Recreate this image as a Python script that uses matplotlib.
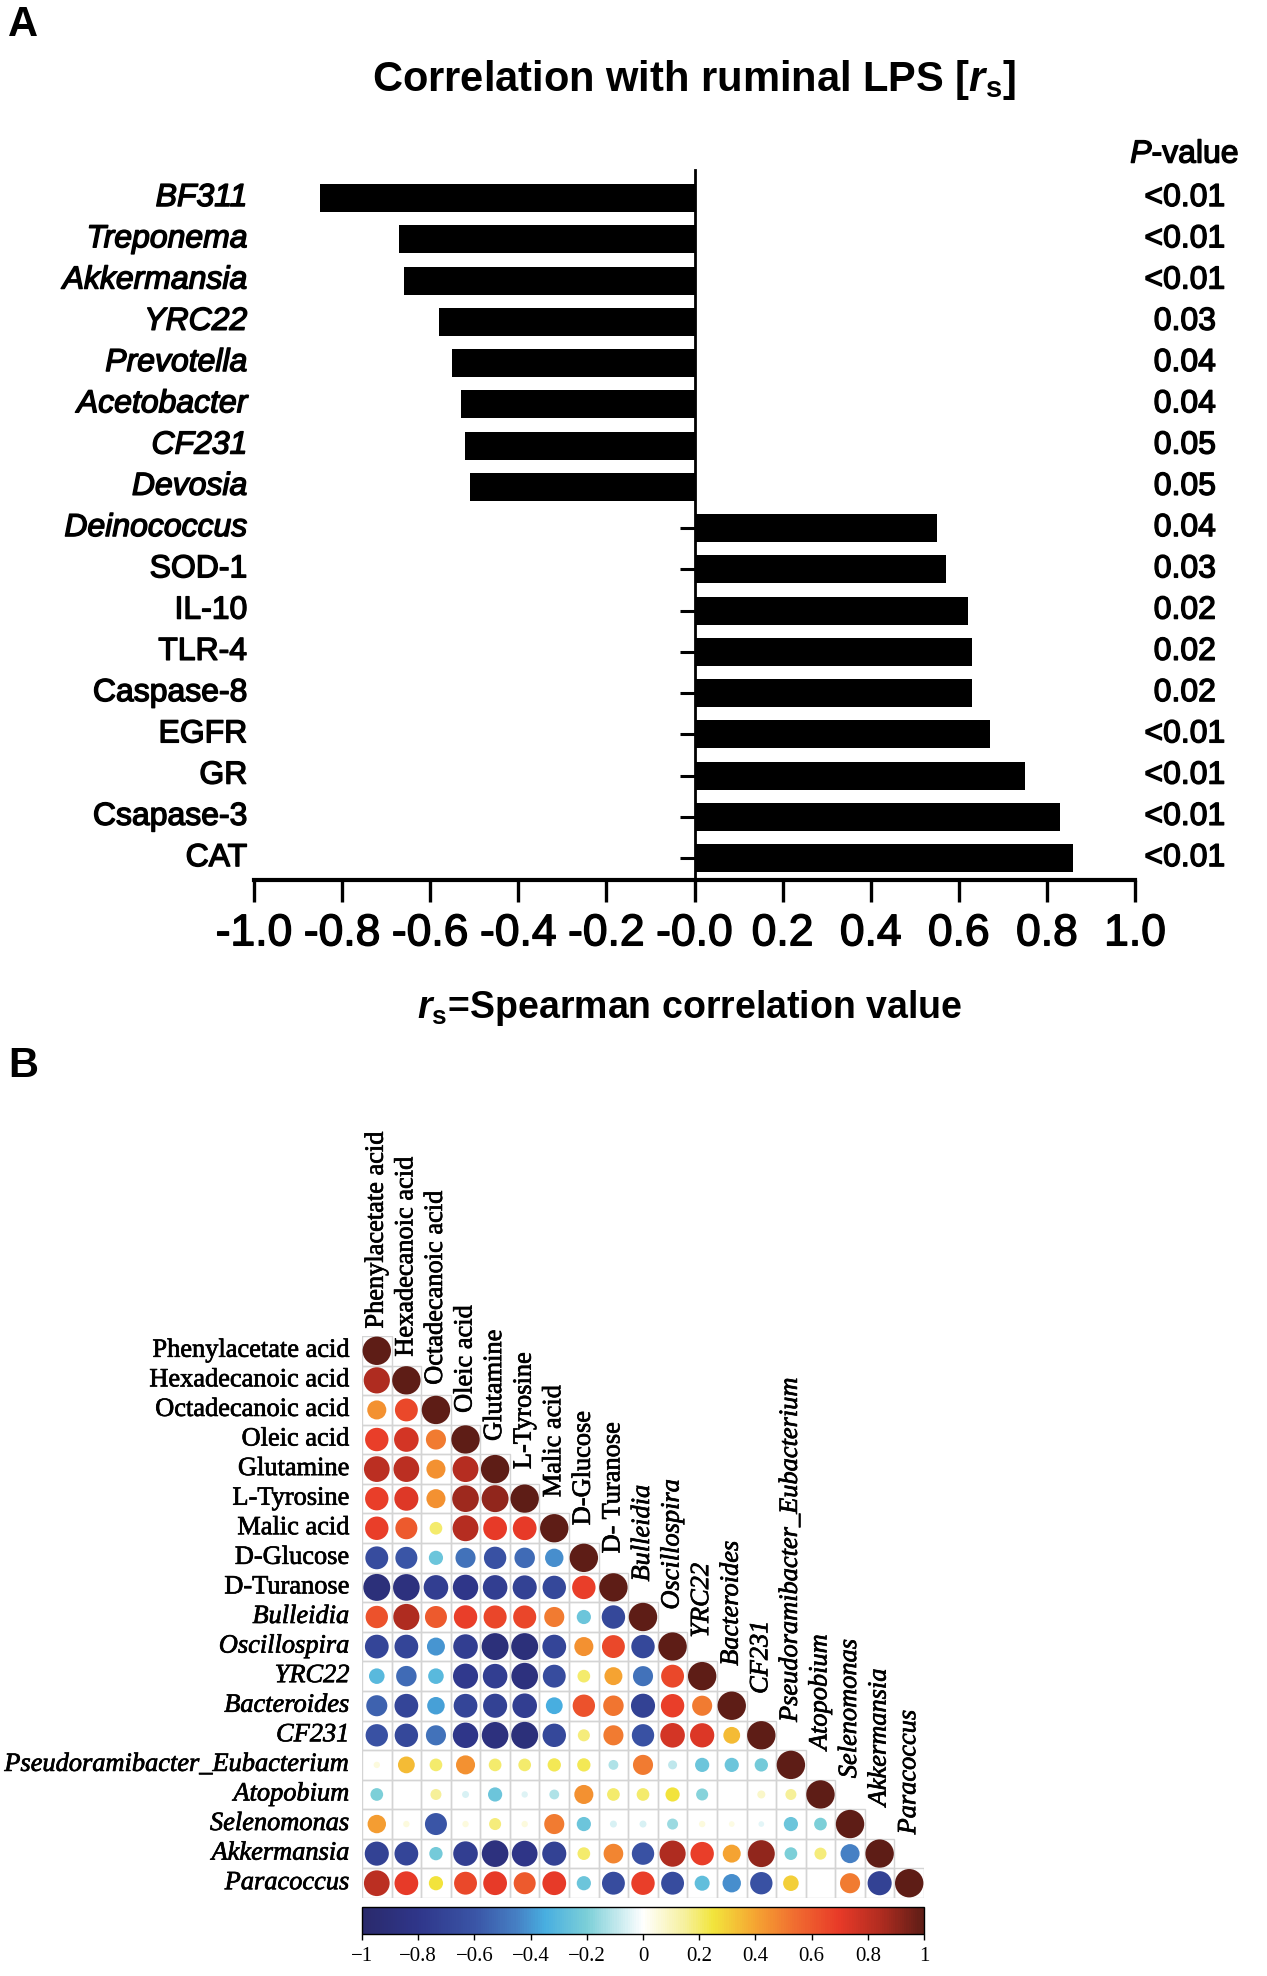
import numpy as np
import matplotlib
matplotlib.use("Agg")
import matplotlib.pyplot as plt
from matplotlib.colors import LinearSegmentedColormap, Normalize
from matplotlib.patches import Circle, Rectangle
import matplotlib.patheffects as pe
import matplotlib.cm as cm

plt.rcParams["font.family"] = "Liberation Sans"
plt.rcParams["mathtext.fontset"] = "custom"
plt.rcParams["mathtext.rm"] = "Liberation Sans"
plt.rcParams["mathtext.it"] = "Liberation Sans:italic"
plt.rcParams["mathtext.bf"] = "Liberation Sans:bold"
plt.rcParams["mathtext.bfit"] = "Liberation Sans:italic:bold"

# ---------------------------------------------------------------------------
# Panel A data: Spearman correlation with ruminal LPS
# ---------------------------------------------------------------------------
bar_labels = ["BF311", "Treponema", "Akkermansia", "YRC22", "Prevotella",
              "Acetobacter", "CF231", "Devosia", "Deinococcus", "SOD-1",
              "IL-10", "TLR-4", "Caspase-8", "EGFR", "GR", "Csapase-3", "CAT"]
bar_italic = [True] * 9 + [False] * 8
rs_values = [-0.85, -0.67, -0.66, -0.58, -0.55, -0.53, -0.52, -0.51,
             0.55, 0.57, 0.62, 0.63, 0.63, 0.67, 0.75, 0.83, 0.86]
p_values = ["<0.01", "<0.01", "<0.01", "0.03", "0.04", "0.04", "0.05", "0.05",
            "0.04", "0.03", "0.02", "0.02", "0.02", "<0.01", "<0.01", "<0.01", "<0.01"]
xtick_values = [-1.0, -0.8, -0.6, -0.4, -0.2, 0.0, 0.2, 0.4, 0.6, 0.8, 1.0]
xtick_labels = ["-1.0", "-0.8", "-0.6", "-0.4", "-0.2", "-0.0",
                "0.2", "0.4", "0.6", "0.8", "1.0"]

# ---------------------------------------------------------------------------
# Panel B data: correlation matrix (lower triangle, diagonal = 1)
# ---------------------------------------------------------------------------
row_names = ["Phenylacetate acid", "Hexadecanoic acid", "Octadecanoic acid",
             "Oleic acid", "Glutamine", "L-Tyrosine", "Malic acid", "D-Glucose",
             "D-Turanose", "Bulleidia", "Oscillospira", "YRC22", "Bacteroides",
             "CF231", "Pseudoramibacter_Eubacterium", "Atopobium",
             "Selenomonas", "Akkermansia", "Paracoccus"]
col_names = ["Phenylacetate acid", "Hexadecanoic acid", "Octadecanoic acid",
             "Oleic acid", "Glutamine", "L-Tyrosine", "Malic acid", "D-Glucose",
             "D- Turanose", "Bulleidia", "Oscillospira", "YRC22", "Bacteroides",
             "CF231", "Pseudoramibacter_Eubacterium", "Atopobium",
             "Selenomonas", "Akkermansia", "Paracoccus"]
name_italic = [False] * 9 + [True] * 10

corr_lower = [
    [],
    [0.85],
    [0.45, 0.65],
    [0.68, 0.75, 0.50],
    [0.82, 0.82, 0.45, 0.83],
    [0.68, 0.72, 0.45, 0.88, 0.90],
    [0.68, 0.60, 0.20, 0.83, 0.70, 0.70],
    [-0.65, -0.60, -0.25, -0.50, -0.62, -0.52, -0.42],
    [-0.90, -0.88, -0.75, -0.80, -0.75, -0.72, -0.68, 0.68],
    [0.62, 0.85, 0.60, 0.68, 0.66, 0.66, 0.50, -0.25, -0.68],
    [-0.70, -0.70, -0.40, -0.75, -0.90, -0.90, -0.70, 0.45, 0.65, -0.68],
    [-0.30, -0.52, -0.30, -0.78, -0.75, -0.88, -0.65, 0.20, 0.40, -0.50, 0.65],
    [-0.55, -0.70, -0.38, -0.70, -0.72, -0.75, -0.35, 0.62, 0.52, -0.72, 0.68, 0.50],
    [-0.62, -0.68, -0.50, -0.80, -0.88, -0.90, -0.68, 0.18, 0.50, -0.62, 0.75, 0.73, 0.35],
    [0.05, 0.35, 0.20, 0.45, 0.20, 0.20, 0.22, 0.22, -0.12, 0.50, -0.10, -0.25, -0.25, -0.22],
    [-0.20, 0.00, 0.15, -0.06, -0.25, -0.05, -0.12, 0.45, 0.20, 0.20, 0.25, -0.18, 0.00, 0.08, 0.15],
    [0.42, 0.05, -0.60, 0.05, 0.18, 0.05, 0.50, -0.25, -0.06, -0.06, -0.15, 0.05, 0.04, -0.04, -0.25, -0.20],
    [-0.72, -0.70, -0.22, -0.75, -0.88, -0.82, -0.72, 0.20, 0.48, -0.62, 0.85, 0.68, 0.40, 0.90, -0.20, 0.18, -0.45],
    [0.82, 0.70, 0.25, 0.65, 0.70, 0.60, 0.70, -0.25, -0.65, 0.68, -0.65, -0.28, -0.42, -0.62, 0.30, 0.00, 0.50, -0.72],
]

cbar_ticks = [-1.0, -0.8, -0.6, -0.4, -0.2, 0.0, 0.2, 0.4, 0.6, 0.8, 1.0]

# colour ramp of the corrplot legend
cmap_stops = [
    (0.000, "#2a2a6c"), (0.100, "#2f368a"), (0.200, "#3a55a6"),
    (0.275, "#4680c4"), (0.325, "#48aee0"), (0.400, "#7ccfd8"),
    (0.500, "#ffffff"), (0.575, "#f6f09c"), (0.625, "#f2e53c"),
    (0.700, "#f5a532"), (0.775, "#f06a30"), (0.850, "#e83a28"),
    (0.925, "#b02c20"), (1.000, "#5e1d16"),
]
cmap = LinearSegmentedColormap.from_list("corr", cmap_stops)
norm = Normalize(-1, 1)

# slightly heavier strokes, like the blurred original scan
heavy = [pe.withStroke(linewidth=1.0, foreground="black")]
heavy_serif = [pe.withStroke(linewidth=0.5, foreground="black")]

W, H = 1267, 1976
fig = plt.figure(figsize=(W / 100, H / 100), dpi=100)

# ---------------------------------------------------------------------------
# Panel A
# ---------------------------------------------------------------------------
ax = fig.add_axes([254 / W, 1 - 880 / H, 881 / W, 710 / H])
ypos = np.arange(len(bar_labels))
ax.barh(ypos, rs_values, height=0.68, color="black")
ax.set_xlim(-1, 1)
ax.set_ylim(16.53, -0.68)
for side in ["top", "right"]:
    ax.spines[side].set_visible(False)
ax.spines["left"].set_position(("data", 0))
ax.spines["left"].set_linewidth(2)
ax.spines["bottom"].set_linewidth(3)
ax.set_yticks(ypos)
ax.set_yticklabels([])
ax.tick_params(axis="y", length=11, width=2.2)
ax.set_xticks(xtick_values)
ax.set_xticklabels(xtick_labels, fontsize=32)
ax.tick_params(axis="x", length=16, width=2.4, pad=8)
for t in ax.get_xticklabels():
    t.set_path_effects(heavy)

for i, (lab, it) in enumerate(zip(bar_labels, bar_italic)):
    ax.text(-1.015, i, lab, ha="right", va="center", fontsize=23,
            style="italic" if it else "normal", clip_on=False,
            path_effects=heavy)
for i, p in enumerate(p_values):
    ax.text(1.113, i, p, ha="center", va="center", fontsize=23,
            clip_on=False, path_effects=heavy)
ax.text(1.113, -1.05, r"$\mathit{P}$-value", ha="center", va="center",
        fontsize=23, clip_on=False, path_effects=heavy)

fig.text(694 / W, 1 - 80 / H,
         r"Correlation with ruminal LPS $\mathbf{[}\mathbfit{r}_\mathbf{s}\mathbf{]}$",
         ha="center", va="center", fontsize=30, weight="bold")
fig.text(690 / W, 1 - 1008 / H,
         r"$\mathbfit{r}_\mathbf{s}$=Spearman correlation value",
         ha="center", va="center", fontsize=27, weight="bold")

fig.text(8 / W, 1 - 5 / H, "A", ha="left", va="top", fontsize=30, weight="bold")
fig.text(8 / W, 1 - 1046 / H, "B", ha="left", va="top", fontsize=30, weight="bold")

# ---------------------------------------------------------------------------
# Panel B: lower-triangle circle correlation plot
# ---------------------------------------------------------------------------
n = len(row_names)
axh = fig.add_axes([362 / W, 1 - 1898 / H, 562 / W, 562 / H])
axh.set_xlim(-0.5, n - 0.5)
axh.set_ylim(n - 0.5, -0.5)
axh.axis("off")

for i in range(n):
    for j in range(i + 1):
        r = 1.0 if i == j else corr_lower[i][j]
        axh.add_patch(Rectangle((j - 0.5, i - 0.5), 1, 1, fill=False,
                                ec="#d4d4d4", lw=1))
        if r != 0:
            axh.add_patch(Circle((j, i), 0.48 * np.sqrt(abs(r)),
                                 fc=cmap(norm(r)), ec="none"))

serif = "Liberation Serif"
for i, (name, it) in enumerate(zip(row_names, name_italic)):
    axh.text(-0.92, i, name, ha="right", va="center", fontsize=19,
             family=serif, style="italic" if it else "normal", clip_on=False,
             path_effects=heavy_serif)
for j, (name, it) in enumerate(zip(col_names, name_italic)):
    axh.text(j, j - 0.75 - 0.05 * j, name, ha="center", va="bottom",
             rotation=90, fontsize=19, family=serif,
             style="italic" if it else "normal", clip_on=False,
             path_effects=heavy_serif)

cax = fig.add_axes([362 / W, 1 - 1934 / H, 562 / W, 27 / H])
cb = fig.colorbar(cm.ScalarMappable(norm=norm, cmap=cmap), cax=cax,
                  orientation="horizontal")
cb.set_ticks(cbar_ticks)
cb.set_ticklabels([f"{v:g}".replace("-", "\u2212") for v in cbar_ticks])
cb.outline.set_linewidth(1)
cax.tick_params(length=4, width=1, labelsize=15, pad=5)
for t in cax.get_xticklabels():
    t.set_fontfamily(serif)

fig.savefig("out.png", dpi=100)
